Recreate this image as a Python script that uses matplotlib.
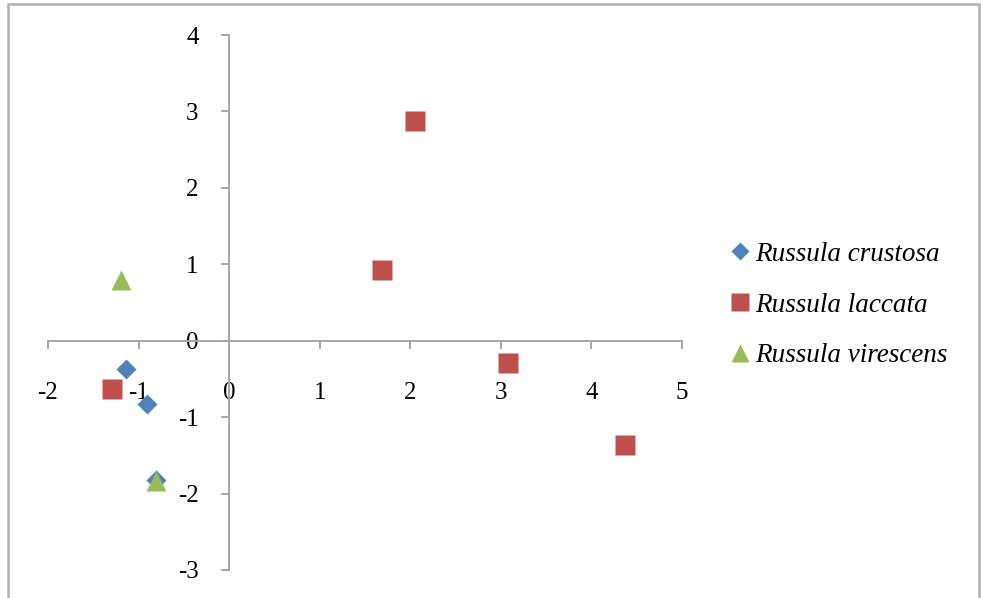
import matplotlib
matplotlib.use("Agg")
import matplotlib.pyplot as plt
from matplotlib.patches import Rectangle

# PCA-style scores for three Russula species
crustosa_x = [-1.14, -0.91, -0.81]
crustosa_y = [-0.37, -0.83, -1.82]
laccata_x = [2.05, 1.69, -1.29, 3.08, 4.37]
laccata_y = [2.87, 0.92, -0.63, -0.29, -1.36]
virescens_x = [-1.19, -0.81]
virescens_y = [0.79, -1.84]

labels = ["Russula crustosa", "Russula laccata", "Russula virescens"]
xticks = [-2, -1, 0, 1, 2, 3, 4, 5]
yticks = [-3, -2, -1, 0, 1, 2, 3, 4]

BLUE = "#4F81BD"
RED = "#C0504D"
GREEN = "#9BBB59"
AXIS_GRAY = "#a6a6a6"

plt.rcParams["font.family"] = ["Liberation Serif", "DejaVu Serif"]
plt.rcParams["axes.unicode_minus"] = False

fig = plt.figure(figsize=(9.81, 5.98), dpi=100)
ax = fig.add_axes([48 / 981, 1 - 570 / 598, (682 - 48) / 981, (570 - 35) / 598])

ax.plot(crustosa_x, crustosa_y, "D", color=BLUE, ms=10, mec="none", label=labels[0], clip_on=False)
ax.plot(laccata_x, laccata_y, "s", color=RED, ms=14, mec="none", label=labels[1], clip_on=False)
ax.plot(virescens_x, virescens_y, "^", color=GREEN, ms=15, mec="none", label=labels[2], clip_on=False)

ax.set_xlim(-2, 5)
ax.set_ylim(-3, 4)
ax.set_xticks(xticks)
ax.set_yticks(yticks)

# axes cross at the origin, Excel style
ax.spines["left"].set_position(("data", 0))
ax.spines["bottom"].set_position(("data", 0))
ax.spines["right"].set_visible(False)
ax.spines["top"].set_visible(False)
for sp in ("left", "bottom"):
    ax.spines[sp].set_color(AXIS_GRAY)
    ax.spines[sp].set_linewidth(1.4)
ax.tick_params(axis="x", direction="out", length=6, width=1.4, color=AXIS_GRAY,
               labelsize=18, pad=24)
ax.tick_params(axis="y", direction="out", length=6, width=1.4, color=AXIS_GRAY,
               labelsize=18, pad=16)
ax.patch.set_visible(False)

leg = fig.legend(loc="center left", bbox_to_anchor=(721 / 981, 1 - 305 / 598),
                 frameon=False, prop={"style": "italic", "size": 19.5},
                 markerscale=0.9, handlelength=0.6, handletextpad=0.25,
                 labelspacing=0.95, borderaxespad=0)

# thin frame around the chart area (bottom edge falls outside the image)
fig.patches.append(Rectangle((8 / 981, -0.1), (979 - 8) / 981, 1.1 - 4 / 598,
                             transform=fig.transFigure, fill=False,
                             edgecolor="#b0b0b0", linewidth=1.8))

fig.savefig("out.png", dpi=100)
